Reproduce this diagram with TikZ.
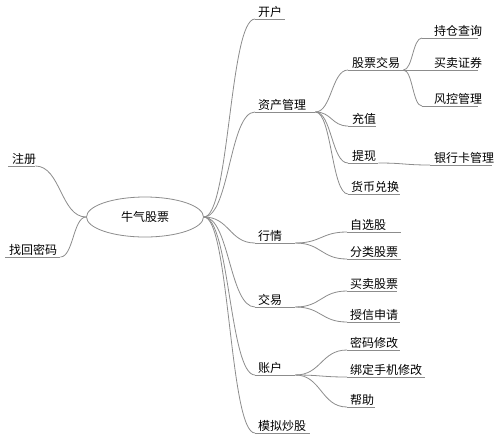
\documentclass[tikz,border=0pt]{standalone}
\usepackage{fontspec}
\newfontfamily\cjk{Noto Sans CJK SC}
\usetikzlibrary{shapes.geometric,calc}
\definecolor{linec}{RGB}{140,140,140}
\begin{document}
\begin{tikzpicture}[x=1pt,y=-1pt,
 conn/.style={draw=linec, line width=0.8pt},
 mm/.style={to path={let \p1=(\tikztostart), \p2=(\tikztotarget), \n1={0.5*(\x2-\x1)} in .. controls +(\n1,0) and +(-\n1,0) .. (\tikztotarget)}},
 lbl/.style={anchor=south west, inner xsep=0pt, inner ysep=1.5pt, text width=#1, align=left,
   font=\cjk\fontsize{12}{14}\selectfont, execute at begin node={\hspace*{3pt}},
   append after command={(\tikzlastnode.south west) edge[conn] (\tikzlastnode.south east)}},
 far/.style={execute at begin node={\hspace*{9pt}}},
 near/.style={execute at begin node={\hspace*{1pt}}}
]
\useasboundingbox (0,0) rectangle (500,440);
\node[ellipse, draw=linec, line width=0.8pt, minimum width=117pt, minimum height=40pt, inner sep=0pt,
  font=\cjk\fontsize{12}{14}\selectfont] (root) at (145,217) {牛气股票};
% left
\node[lbl=27pt, near] (reg) at (8,166) {注册};
\node[lbl=55pt, near] (pwd) at (5,257) {找回密码};
% level 1
\node[lbl=30pt] (kh) at (255,19) {开户};
\node[lbl=60pt] (zcgl) at (255,112) {资产管理};
\node[lbl=40pt] (hq) at (255,243) {行情};
\node[lbl=40pt] (jy) at (255,307) {交易};
\node[lbl=40pt] (zh) at (255,375) {账户};
\node[lbl=55pt] (mn) at (255,433) {模拟炒股};
% level 2 (资产管理)
\node[lbl=55pt, near] (gpjy) at (348,70) {股票交易};
\node[lbl=28pt, near] (cz) at (348,126) {充值};
\node[lbl=30pt, near] (tx) at (348,163) {提现};
\node[lbl=52pt] (hbdh) at (348,194) {货币兑换};
\node[lbl=62pt, near] (yhk) at (430,165) {银行卡管理};
% level 3 (股票交易)
\node[lbl=56pt, far] (cc) at (422,38) {持仓查询};
\node[lbl=56pt, far] (mmzq) at (422,70) {买卖证券};
\node[lbl=56pt, far] (fk) at (422,106) {风控管理};
% 行情
\node[lbl=54pt] (zx) at (347,232) {自选股};
\node[lbl=54pt] (fl) at (347,259) {分类股票};
% 交易
\node[lbl=50pt] (mmgp) at (347,291) {买卖股票};
\node[lbl=53pt] (sx) at (347,322) {授信申请};
% 账户
\node[lbl=53pt] (mmxg) at (347,350) {密码修改};
\node[lbl=78pt] (bd) at (347,377) {绑定手机修改};
\node[lbl=28pt] (bz) at (347,407) {帮助};
% connectors
\draw[conn] (root.west) to[mm] (reg.south east);
\draw[conn] (root.west) to[mm] (pwd.south east);
\foreach \c in {kh,zcgl,hq,jy,zh,mn} \draw[conn] (root.east) to[mm] (\c.south west);
\foreach \c in {gpjy,cz,tx,hbdh} \draw[conn] (zcgl.south east) to[mm] (\c.south west);
\draw[conn] (tx.south east) to[mm] (yhk.south west);
\foreach \c in {cc,mmzq,fk} \draw[conn] (gpjy.south east) to[mm] (\c.south west);
\foreach \c in {zx,fl} \draw[conn] (hq.south east) to[mm] (\c.south west);
\foreach \c in {mmgp,sx} \draw[conn] (jy.south east) to[mm] (\c.south west);
\foreach \c in {mmxg,bd,bz} \draw[conn] (zh.south east) to[mm] (\c.south west);
\end{tikzpicture}
\end{document}
